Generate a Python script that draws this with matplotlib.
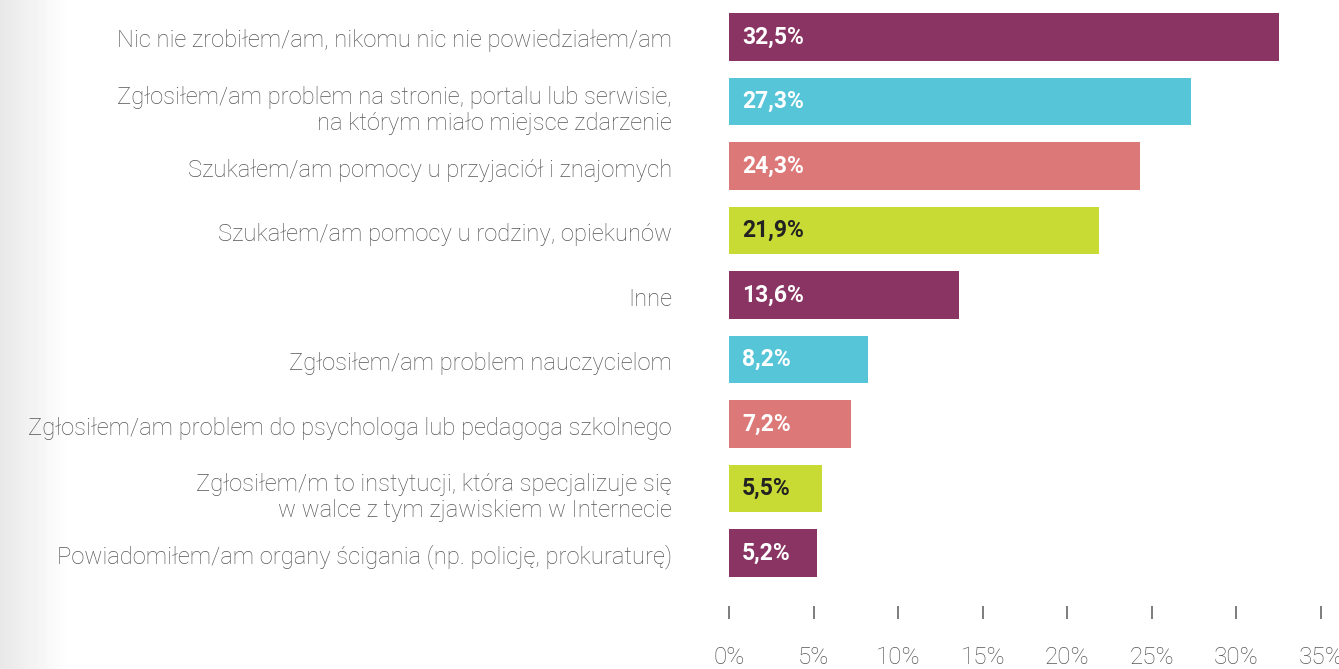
import matplotlib
matplotlib.use("Agg")
import matplotlib.pyplot as plt
import numpy as np

categories = [
    "Nic nie zrobiłem/am, nikomu nic nie powiedziałem/am",
    "Zgłosiłem/am problem na stronie, portalu lub serwisie,\nna którym miało miejsce zdarzenie",
    "Szukałem/am pomocy u przyjaciół i znajomych",
    "Szukałem/am pomocy u rodziny, opiekunów",
    "Inne",
    "Zgłosiłem/am problem nauczycielom",
    "Zgłosiłem/am problem do psychologa lub pedagoga szkolnego",
    "Zgłosiłem/m to instytucji, która specjalizuje się\nw walce z tym zjawiskiem w Internecie",
    "Powiadomiłem/am organy ścigania (np. policję, prokuraturę)",
]
values = [32.5, 27.3, 24.3, 21.9, 13.6, 8.2, 7.2, 5.5, 5.2]
value_labels = ["32,5%", "27,3%", "24,3%", "21,9%", "13,6%", "8,2%", "7,2%", "5,5%", "5,2%"]
tick_values = [0, 5, 10, 15, 20, 25, 30, 35]
tick_labels = ["0%", "5%", "10%", "15%", "20%", "25%", "30%", "35%"]

palette = ["#8A3463", "#55C5D7", "#DC7878", "#C8DB34"]
colors = [palette[i % 4] for i in range(len(values))]
text_colors = ["#222222" if c == "#C8DB34" else "white" for c in colors]

plt.rcParams['font.family'] = ['Roboto', 'DejaVu Sans']

W, H = 1339, 669
fig = plt.figure(figsize=(W / 100, H / 100), dpi=100)

# left gray gradient background
bg = fig.add_axes([0, 0, 1, 1], zorder=-10)
grad = np.linspace(0, 1, 400)
g = np.clip(grad / 0.05, 0, 1)
shade = 0.91 + 0.09 * g
img = np.tile(shade, (10, 1))
bg.imshow(img, cmap='gray', vmin=0, vmax=1, aspect='auto', extent=[0, 1, 0, 1])
bg.set_xlim(0, 1)
bg.set_ylim(0, 1)
bg.axis('off')

left_px, right_px = 729, 1321
bottom_px = 606
ax = fig.add_axes([left_px / W, 1 - bottom_px / H, (right_px - left_px) / W, bottom_px / H])
ax.patch.set_alpha(0)

pitch = 64.5
c0 = 37
ax.set_ylim((bottom_px - c0) / pitch, (0 - c0) / pitch)
ax.set_xlim(0, 35)

y = np.arange(len(values))
ax.barh(y, values, height=0.73, color=colors)

for i, (v, lab, tc) in enumerate(zip(values, value_labels, text_colors)):
    ax.annotate(lab, xy=(0, i), xytext=(13, 0), textcoords='offset pixels',
                ha='left', va='center', color=tc, fontsize=16.5, fontweight='bold')

for i, cat in enumerate(categories):
    off = -9 if "\n" in cat else -4
    ax.annotate(cat, xy=(0, i), xycoords=('axes fraction', 'data'),
                xytext=(-57, off), textcoords='offset pixels',
                ha='right', va='center', color='#555555', fontsize=17.1,
                fontweight='light', linespacing=1.12)

for s in ax.spines.values():
    s.set_visible(False)
ax.set_yticks([])
ax.set_xticks(tick_values)
ax.set_xticklabels(tick_labels, fontsize=17.5, color='#555555', fontweight='light')
ax.tick_params(axis='x', direction='out', length=9, width=1.2, color='#666666', pad=20)

fig.savefig("out.png", dpi=100)
